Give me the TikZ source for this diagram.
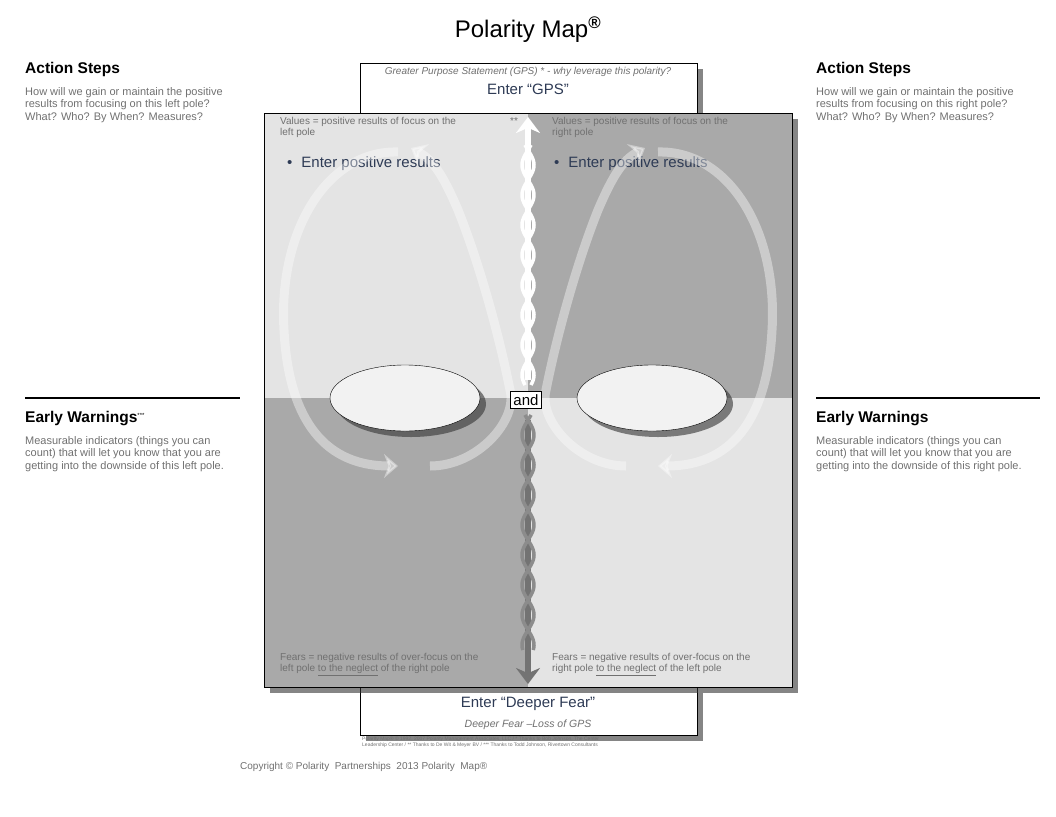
\documentclass[tikz,border=0pt]{standalone}
\usepackage{fontspec}
\setmainfont{Liberation Sans}
\usetikzlibrary{arrows.meta,shadows,shapes.geometric}

\definecolor{lightq}{HTML}{E4E4E4}
\definecolor{darkq}{HTML}{A9A9A9}
\definecolor{txtgray}{HTML}{707070}
\definecolor{navy}{HTML}{2E3B55}

\tikzset{
  head/.style={font=\bfseries\fontsize{15.5}{17}\selectfont, anchor=north west, inner sep=0pt},
  side/.style={font=\fontsize{11}{12.5}\selectfont, text=txtgray, anchor=north west, inner sep=0pt, align=left},
  small/.style={font=\fontsize{10}{11.5}\selectfont, text=txtgray, anchor=north west, inner sep=0pt, align=left},
  entry/.style={font=\fontsize{15}{17}\selectfont, text=navy, inner sep=0pt},
  shadowed/.style={drop shadow={shadow xshift=6pt, shadow yshift=-6pt, opacity=.6, fill=black!80}},
  pole/.style={ellipse, draw, fill=white!95!black, minimum width=150pt, minimum height=66pt, shadowed},
  loop/.style={line width=9pt, draw=white, opacity=.4, -{Stealth[length=14pt,width=24pt]}},
}

\begin{document}
\begin{tikzpicture}[x=1pt,y=-1pt]
  \useasboundingbox (0,0) rectangle (1056,816);
  % title
  \node[font=\fontsize{24}{28}\selectfont] (title) at (528,30) {Polarity Map\textsuperscript{\textbf{®}}};
  % greater purpose box
  \node[draw, fill=white, shadowed, minimum width=337pt, minimum height=50pt, anchor=north west, inner sep=0pt] (gps) at (360,63) {};
  \node[font=\itshape\fontsize{10}{11}\selectfont, text=txtgray] (gpsq) at (528,72) {Greater Purpose Statement (GPS) * - why leverage this polarity?};
  \node[entry] (gpse) at (528,89) {Enter “GPS”};
  % deeper fear box
  \node[draw, fill=white, shadowed, minimum width=337pt, minimum height=48pt, anchor=north west, inner sep=0pt] (fear) at (360,687) {};
  \node[entry] (feare) at (528,704) {Enter “Deeper Fear”};
  \node[font=\itshape\fontsize{10.5}{12}\selectfont, text=txtgray] (fearq) at (528,725) {Deeper Fear –Loss of GPS};
  % quadrants
  \fill[black!80, opacity=.6] (270,119) rectangle (798,693);
  \fill[lightq] (264,113) rectangle (528,398);
  \fill[darkq] (528,113) rectangle (792,398);
  \fill[darkq] (264,398) rectangle (528,687);
  \fill[lightq] (528,398) rectangle (792,687);
  \draw (264,113) rectangle (792,687);
  % quadrant notes
  \node[small] (vl) at (280,117) {Values = positive results of focus on the\\left pole};
  \node[small] (vr) at (552,117) {Values = positive results of focus on the\\right pole};
  \node[small] at (510,117) {**};
  \node[entry, anchor=west] (pl) at (287,164) {•\hspace{9pt}Enter positive results};
  \node[entry, anchor=west] (pr) at (554,164) {•\hspace{9pt}Enter positive results};
  \node[small] (fl) at (280,653) {Fears = negative results of over-focus on the\\left pole \underline{to the neglect} of the right pole};
  \node[small] (fr) at (552,653) {Fears = negative results of over-focus on the\\right pole \underline{to the neglect} of the left pole};
  % infinity loops
  \foreach \m in {1,-1}{
    \begin{scope}[xshift=528pt, xscale=\m]
      \draw[loop] (-98,466) .. controls (-50,466) and (-10,420) .. (-18,390)
        .. controls (-30,330) and (-50,260) .. (-70,210)
        .. controls (-85,175) and (-95,160) .. (-117,148);
      \draw[loop] (-130,152) .. controls (-200,150) and (-250,230) .. (-244,330)
        .. controls (-240,410) and (-210,466) .. (-130,466);
    \end{scope}
  }
  % central arrows
  \draw[white, line width=6pt, -{Stealth[length=16pt,width=24pt]}] (528,380) -- (528,117);
  \draw[black!55, line width=6pt, -{Stealth[length=16pt,width=24pt]}] (528,420) -- (528,684);
  \foreach \s in {1,-1}{
    \draw[white, line width=3.5pt, domain=145:385, samples=100, variable=\t] plot ({528+\s*6*sin(\t*6)}, \t);
    \draw[black!45, line width=3.5pt, domain=415:650, samples=100, variable=\t] plot ({528+\s*6*sin(\t*6)}, \t);
  }
  % poles
  \node[pole] (lp) at (405,398) {};
  \node[pole] (rp) at (652,398) {};
  \node[draw, fill=white, font=\fontsize{15}{17}\selectfont, inner sep=3pt] (and) at (526,400) {and};
  % footnote
  \node[font=\fontsize{5}{6}\selectfont, text=txtgray, anchor=north west, inner sep=0pt, align=left] (foot) at (362,737)
    {Polarity Map® © 1992, 2007 Polarity Management Associates, LLC / * Thanks to Bob Johnson, The Center\\Leadership Center / ** Thanks to De Wit \& Meyer BV / *** Thanks to Todd Johnson, Rivertown Consultants};
  \node[font=\fontsize{10}{12}\selectfont, text=txtgray, anchor=north west, inner sep=0pt] (copy) at (240,762)
    {Copyright © Polarity \ Partnerships \ 2013 Polarity \ Map®};
  % left side
  \node[head] (asl) at (25,62) {Action Steps};
  \node[side] (asld) at (25,87) {How will we gain or maintain the positive\\results from focusing on this left pole?\\What? Who? By When? Measures?};
  \draw[line width=1.5pt] (25,398) -- (240,398);
  \node[head] (ewl) at (25,411) {Early Warnings\textsuperscript{\fontsize{6}{6}\selectfont\mdseries ***}};
  \node[side] (ewld) at (25,436) {Measurable indicators (things you can\\count) that will let you know that you are\\getting into the downside of this left pole.};
  % right side
  \node[head] (asr) at (816,62) {Action Steps};
  \node[side] (asrd) at (816,87) {How will we gain or maintain the positive\\results from focusing on this right pole?\\What? Who? By When? Measures?};
  \draw[line width=1.5pt] (816,398) -- (1040,398);
  \node[head] (ewr) at (816,411) {Early Warnings};
  \node[side] (ewrd) at (816,436) {Measurable indicators (things you can\\count) that will let you know that you are\\getting into the downside of this right pole.};
\end{tikzpicture}
\end{document}
